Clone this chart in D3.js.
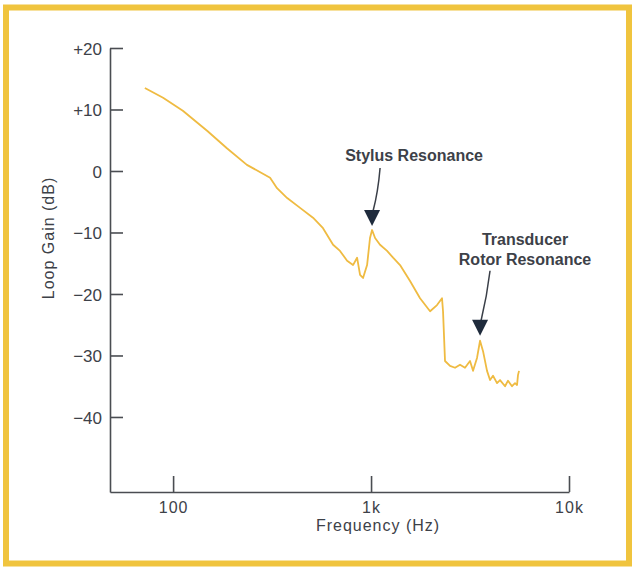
<!DOCTYPE html>
<meta charset="utf-8">
<script src="https://d3js.org/d3.v7.min.js"></script>
<style>
  body { margin: 0; background: #fff; }
  text { font-family: "Liberation Sans", Arial, sans-serif; fill: #3d4148; }
</style>
<div id="my_dataviz"></div>
<script>

// Data
var freqHz = [72, 89, 112, 149, 187, 236, 309, 335, 377, 438, 509, 572, 643, 697, 757,
  811, 850, 880, 911, 955, 988, 1012, 1048, 1110, 1205, 1292, 1401, 1574, 1768, 1987,
  2154, 2283, 2310, 2364, 2506, 2656, 2815, 2983, 3162, 3275, 3430, 3553, 3679, 3854,
  3991, 4132, 4329, 4483, 4752, 4919, 5153, 5338, 5464, 5525, 5591];
var gainDb = [13.5, 11.9, 9.8, 6.5, 3.7, 1.0, -1.1, -2.8, -4.4, -6.0, -7.6, -9.3, -12.0, -13.0, -14.6,
  -15.3, -14.1, -16.9, -17.4, -15.3, -10.9, -9.6, -10.9, -12.0, -13.0, -14.1, -15.3, -17.9, -20.7, -22.8,
  -21.8, -20.7, -22.8, -30.9, -31.7, -32.0, -31.5, -32.0, -30.9, -32.5, -30.4, -27.6, -29.3, -32.5,
  -34.0, -33.3, -34.5, -34.0, -35.0, -34.1, -35.0, -34.5, -34.8, -33.2, -32.5];

var yTicks = [20, 10, 0, -10, -20, -30, -40];
var yTickLabels = ["+20", "+10", "0", "\u221210", "\u221220", "\u221230", "\u221240"];
var xTicks = [100, 1000, 10000];
var xTickLabels = ["100", "1k", "10k"];

var peaks = [
  { f: 1012, g: -9.6, lines: ["Stylus Resonance"] },
  { f: 3553, g: -27.6, lines: ["Transducer", "Rotor Resonance"] }
];

var W = 632, H = 567;

var svg = d3.select('#my_dataviz')
  .append('svg')
    .attr("width", W)
    .attr("height", H);

// Frame
svg.append("rect")
  .attr("x", 6).attr("y", 7.5)
  .attr("width", 623).attr("height", 556)
  .attr("fill", "none")
  .attr("stroke", "#f0c43e")
  .attr("stroke-width", 6);

// Scales
var x = d3.scaleLog().domain([48, 10000]).range([110, 569]);
var y = d3.scaleLinear().domain([-52.2, 20]).range([492, 48]);

// Y axis
var yAxis = svg.append("g")
  .attr("transform", "translate(110,0)")
  .call(d3.axisLeft(y)
    .tickValues(yTicks)
    .tickFormat(function(d, i) { return yTickLabels[i]; })
    .tickSizeInner(-13).tickSizeOuter(0).tickPadding(8));
yAxis.selectAll("text").style("font-size", "17px").attr("dy", "0.36em");

// X axis
var xAxis = svg.append("g")
  .attr("transform", "translate(0,492)")
  .call(d3.axisBottom(x)
    .tickValues(xTicks)
    .tickFormat(function(d, i) { return xTickLabels[i]; })
    .tickSizeInner(-16).tickSizeOuter(0).tickPadding(10));
xAxis.selectAll("text").style("font-size", "16px").style("letter-spacing", "1px");

svg.selectAll(".domain, .tick line")
  .attr("stroke", "#4a4d52")
  .attr("stroke-width", 1.6);
svg.selectAll(".tick text").attr("fill", "#3d4148");

// Axis titles
svg.append("text")
  .attr("text-anchor", "middle")
  .attr("x", 378).attr("y", 531)
  .style("font-size", "16px")
  .style("letter-spacing", "1px")
  .text("Frequency (Hz)");

svg.append("text")
  .attr("text-anchor", "middle")
  .attr("transform", "translate(54,238) rotate(-90)")
  .style("font-size", "16px")
  .style("letter-spacing", "1px")
  .text("Loop Gain (dB)");

// Curve
var line = d3.line()
  .x(function(d, i) { return x(freqHz[i]); })
  .y(function(d) { return y(d); });

svg.append("path")
  .datum(gainDb)
  .attr("fill", "none")
  .attr("stroke", "#efbb42")
  .attr("stroke-width", 1.8)
  .attr("stroke-linejoin", "round")
  .attr("d", line);

// Annotations
var offs = [
  { tx: 42, ty: -69, ax0: 8, ay0: -62, cx: 6, cy: -38, top: -20, tip: -4 },
  { tx: 45, ty: -96, ax0: 10, ay0: -70, cx: 7, cy: -45, top: -21, tip: -5 }
];

peaks.forEach(function(p, i) {
  var px = x(p.f), py = y(p.g), o = offs[i];
  svg.append("path")
    .attr("d", "M" + (px + o.ax0) + "," + (py + o.ay0) +
      "Q" + (px + o.cx) + "," + (py + o.cy) + " " + (px + 1) + "," + (py + o.top + 1))
    .attr("fill", "none")
    .attr("stroke", "#3a3f48")
    .attr("stroke-width", 1.5);
  svg.append("path")
    .attr("d", "M" + (px - 8) + "," + (py + o.top) + "L" + (px + 8) + "," + (py + o.top) +
      "L" + px + "," + (py + o.tip) + "Z")
    .attr("fill", "#1f2b3c");
  p.lines.forEach(function(t, j) {
    svg.append("text")
      .attr("text-anchor", "middle")
      .attr("x", px + o.tx)
      .attr("y", py + o.ty + j * 20)
      .style("font-size", "16px")
      .style("font-weight", "bold")
      .attr("fill", "#3a3f48")
      .text(t);
  });
});

</script>
</body>
</html>
